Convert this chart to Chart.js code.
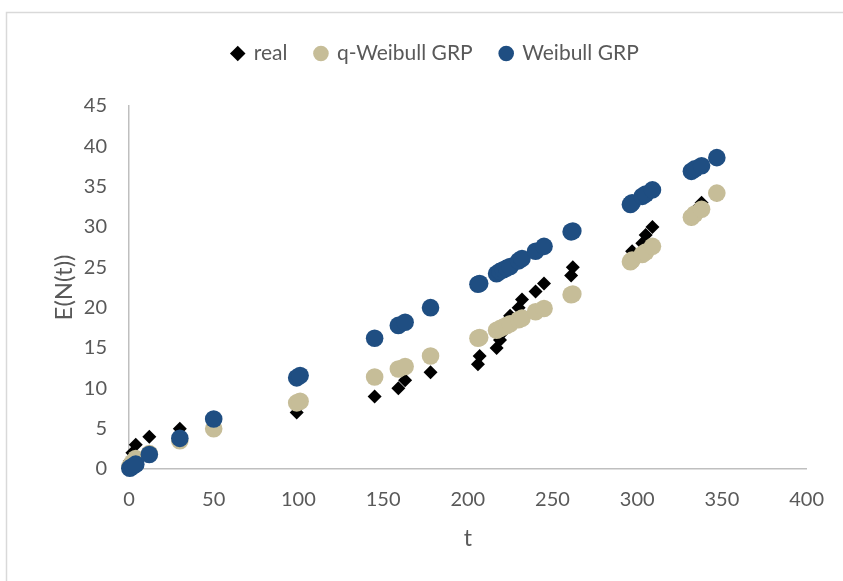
<!DOCTYPE html>
<html>
<head>
<meta charset="utf-8">
<script src="https://cdn.jsdelivr.net/npm/chart.js@4.4.1/dist/chart.umd.min.js"></script>
<style>
  html, body { margin: 0; padding: 0; background: #ffffff; }
  #wrap { width: 843px; height: 581px; position: relative; }
</style>
</head>
<body>
<div id="wrap"><canvas id="c" width="843" height="581"></canvas></div>
<script>
// Failure times t and the cumulative number of failures observed up to each one
const failureTimes = [0.5, 2, 4, 12, 30, 50, 99, 101, 145, 159, 163, 178, 206, 207, 217, 219, 221, 223, 225, 230, 232, 240, 245, 261, 262, 296, 297, 303, 305, 309, 332, 334, 338, 347];
const realCounts = [1, 2, 3, 4, 5, 6, 7, 8, 9, 10, 11, 12, 13, 14, 15, 16, 17, 18, 19, 20, 21, 22, 23, 24, 25, 26, 27, 28, 29, 30, 31, 32, 33, 34];
// Expected number of failures E(N(t)) from the two fitted GRP models
const qWeibullGRP = [0.3, 0.8, 1.3, 1.9, 3.5, 5.0, 8.2, 8.4, 11.4, 12.4, 12.7, 14.0, 16.2, 16.3, 17.2, 17.4, 17.6, 17.8, 18.0, 18.5, 18.7, 19.5, 19.9, 21.6, 21.7, 25.7, 25.9, 26.6, 26.9, 27.6, 31.2, 31.6, 32.2, 34.2];
const weibullGRP = [0.1, 0.3, 0.6, 1.8, 3.8, 6.2, 11.3, 11.6, 16.2, 17.8, 18.2, 20.0, 22.9, 23.0, 24.2, 24.5, 24.7, 24.9, 25.1, 25.8, 26.1, 27.0, 27.6, 29.4, 29.5, 32.8, 33.0, 33.8, 34.1, 34.6, 36.9, 37.2, 37.6, 38.6];

const seriesNames = ['real', 'q-Weibull GRP', 'Weibull GRP'];
const xTicks = [0, 50, 100, 150, 200, 250, 300, 350, 400];
const yTicks = [0, 5, 10, 15, 20, 25, 30, 35, 40, 45];

const toPoints = (ys) => failureTimes.map((t, i) => ({ x: t, y: ys[i] }));

const FONT = 'Lato, "Open Sans", "Liberation Sans", sans-serif';
const TEXT = '#595959';
const AXIS = '#bfbfbf';

// White page with the light grey chart frame
const framePlugin = {
  id: 'frame',
  beforeDraw(chart) {
    const ctx = chart.ctx;
    ctx.save();
    ctx.fillStyle = '#ffffff';
    ctx.fillRect(0, 0, chart.width, chart.height);
    ctx.strokeStyle = '#d9d9d9';
    ctx.lineWidth = 1.5;
    ctx.strokeRect(6.5, 12.5, 900, 700);
    ctx.restore();
  }
};

// Leave extra room between the legend row and the plot area,
// and centre the legend row over the whole frame
const legendSpacer = {
  id: 'legendSpacer',
  afterInit(chart) {
    const legend = chart.legend;
    if (!legend) return;
    const fit = legend.fit.bind(legend);
    legend.fit = function () {
      fit();
      this.height += 32;
    };
  },
  afterLayout(chart) {
    const legend = chart.legend;
    if (!legend) return;
    legend.left += 6;
    legend.right += 6;
  }
};

new Chart(document.getElementById('c'), {
  type: 'scatter',
  data: {
    datasets: [
      {
        label: seriesNames[0],
        data: toPoints(realCounts),
        pointStyle: 'rectRot',
        pointRadius: 7,
        pointHoverRadius: 7,
        backgroundColor: '#000000',
        borderColor: '#000000',
        borderWidth: 0,
        clip: false,
        order: 3
      },
      {
        label: seriesNames[1],
        data: toPoints(qWeibullGRP),
        pointStyle: 'circle',
        pointRadius: 8.8,
        pointHoverRadius: 8.8,
        backgroundColor: '#c6bd98',
        borderColor: '#c6bd98',
        borderWidth: 0,
        clip: false,
        order: 2
      },
      {
        label: seriesNames[2],
        data: toPoints(weibullGRP),
        pointStyle: 'circle',
        pointRadius: 8.8,
        pointHoverRadius: 8.8,
        backgroundColor: '#1f4e82',
        borderColor: '#1f4e82',
        borderWidth: 0,
        clip: false,
        order: 1
      }
    ]
  },
  options: {
    responsive: false,
    animation: false,
    devicePixelRatio: 1,
    layout: { padding: { left: 48, right: 32, top: 15, bottom: 25 } },
    plugins: {
      tooltip: { enabled: false },
      legend: {
        position: 'top',
        align: 'center',
        labels: {
          usePointStyle: true,
          boxWidth: 11,
          boxHeight: 11,
          padding: 28,
          color: TEXT,
          font: { family: FONT, size: 21 },
          sort: (a, b) => a.datasetIndex - b.datasetIndex
        }
      }
    },
    scales: {
      x: {
        type: 'linear',
        min: 0,
        max: 400,
        afterBuildTicks: (s) => { s.ticks = xTicks.map(v => ({ value: v })); },
        afterFit: (s) => { s.height = 87; },
        grid: { display: false, drawTicks: false },
        border: { display: true, color: AXIS, width: 1.5 },
        ticks: { color: TEXT, font: { family: FONT, size: 20 }, padding: 19 },
        title: { display: true, text: 't', color: TEXT, font: { family: FONT, size: 23 } }
      },
      y: {
        type: 'linear',
        min: 0,
        max: 45,
        afterBuildTicks: (s) => { s.ticks = yTicks.map(v => ({ value: v })); },
        afterFit: (s) => { s.width = 81; },
        grid: { display: false, drawTicks: false },
        border: { display: true, color: AXIS, width: 1.5 },
        ticks: { color: TEXT, font: { family: FONT, size: 20 }, padding: 22 },
        title: { display: true, text: 'E(N(t))', color: TEXT, font: { family: FONT, size: 24 }, padding: { top: 2, bottom: 4 } }
      }
    }
  },
  plugins: [framePlugin, legendSpacer]
});
</script>
</body>
</html>
